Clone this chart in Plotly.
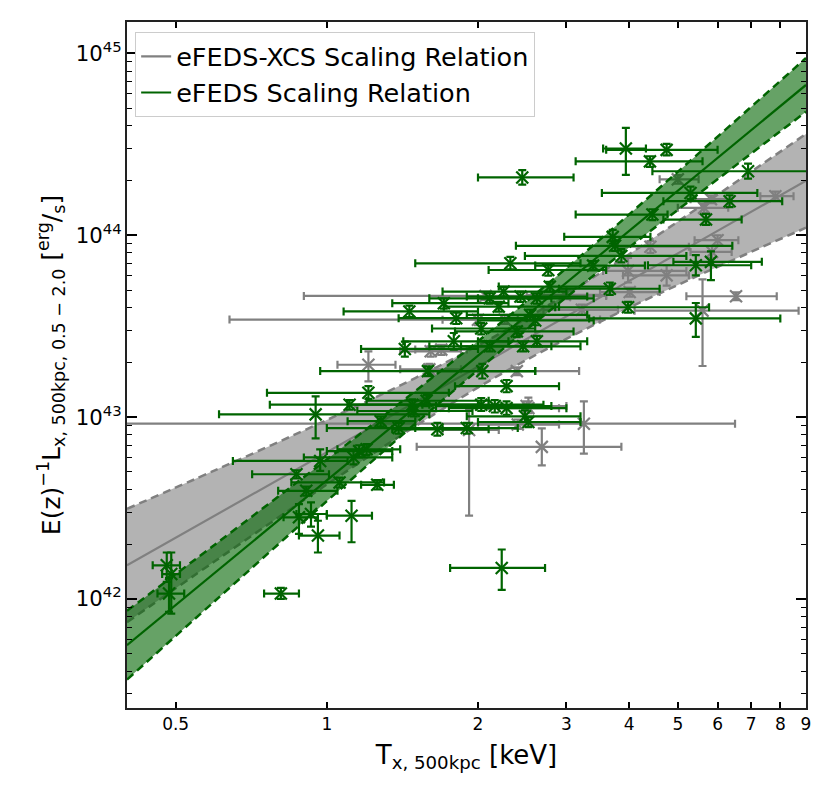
import numpy as np
import plotly.graph_objects as go

# eFEDS clusters (green): T [keV], L [1e42 erg/s], with lower/upper bounds
g_T = [2.45, 3.94, 4.75, 4.4, 6.9, 5.3, 6.34, 4.45, 5.69, 3.71, 3.75, 3.86, 5.43, 5.82, 5.43,
       3.98, 3.66, 2.23, 2.52, 1.43, 1.21, 1.11, 0.95, 1.28, 0.97, 0.87, 0.91, 1.06, 1.26, 0.88,
       0.93, 0.96, 1.12, 0.81, 0.48, 0.49, 0.485, 2.32, 2.76, 1.46, 1.81, 2.03, 1.79, 1.59, 1.71,
       2.11, 2.25, 2.43, 2.62, 2.78, 2.54, 2.11, 2.39, 2.46, 2.62, 2.04, 2.28, 2.03, 2.16, 2.28,
       2.48, 1.48, 1.58, 1.49, 1.39, 1.66, 1.9, 1.16, 1.13, 1.2, 3.39, 2.6, 2.2]
g_Tlo = [2.0, 3.55, 3.6, 3.13, 4.45, 3.53, 4.68, 3.13, 4.68, 2.97, 2.38, 2.48, 4.36, 4.9, 3.33,
         2.85, 2.9, 1.76, 2.0, 1.17, 0.76, 0.77, 0.61, 1.1, 0.65, 0.71, 0.8, 0.85, 1.17, 0.82,
         0.87, 0.88, 1.0, 0.75, 0.45, 0.47, 0.46, 1.5, 2.1, 1.08, 1.39, 1.62, 1.42, 0.97, 1.35,
         1.6, 1.7, 1.9, 2.0, 2.2, 1.9, 1.6, 1.8, 1.85, 2.0, 1.6, 1.8, 1.55, 1.65, 1.75,
         1.9, 1.1, 1.2, 1.15, 1.0, 1.35, 1.5, 1.0, 0.9, 1.05, 2.6, 2.0, 1.71]
g_Thi = [3.1, 4.32, 6.0, 5.6, 9.5, 7.2, 8.07, 4.77, 6.7, 4.41, 6.42, 5.2, 7.0, 7.35, 8.0,
         5.77, 4.6, 2.72, 3.2, 2.0, 1.75, 1.6, 1.6, 1.5, 1.1, 1.01, 1.05, 1.3, 1.36, 0.96,
         1.0, 1.06, 1.23, 0.88, 0.51, 0.51, 0.52, 3.2, 3.6, 2.0, 2.5, 2.6, 2.3, 2.6, 2.3,
         2.8, 3.0, 3.3, 3.4, 3.7, 3.3, 2.8, 3.1, 3.2, 3.3, 2.6, 2.9, 2.7, 2.8, 3.0,
         3.2, 2.0, 2.1, 1.95, 1.7, 2.1, 2.4, 1.35, 1.35, 1.4, 4.3, 3.4, 2.9]
g_L = [208, 300, 295, 255, 225, 171, 154, 130, 122, 98, 87.5, 77, 68.4, 71.4, 34.9,
       40.2, 50.8, 1.48, 9.4, 23.7, 13.6, 11.7, 10.35, 9.5, 5.74, 4.85, 3.93, 4.37, 4.24, 2.81,
       2.93, 2.23, 2.87, 1.07, 1.53, 1.37, 1.07, 70.1, 64.4, 38.1, 35.0, 30.7, 26.1, 17.9, 42.3,
       45, 49, 46, 45, 52.2, 36.5, 24.5, 29.6, 24.5, 26.1, 17.9, 14.8, 11.7, 11.5, 11.2,
       10.1, 11.7, 12.3, 10.8, 8.7, 8.57, 8.7, 6.5, 6.0, 6.65, 68.1, 34, 40.5]
g_Llo = [190, 215, 275, 238, 205, 158, 143, 121, 114, 90, 82, 71, 60.2, 56.7, 27.6,
         37.5, 47, 1.12, 8.8, 21.5, 12.6, 11.0, 7.64, 8.9, 5.06, 4.6, 3.7, 4.1, 4.0, 2.28,
         2.5, 1.8, 2.05, 1.0, 1.24, 0.83, 0.85, 65, 60, 35.5, 32.5, 28.5, 23.5, 16.8, 39.5,
         42, 46, 43, 42, 49, 34, 23, 27.5, 23, 24.5, 16.3, 13.7, 10.8, 10.6, 10.3,
         9.4, 11, 11.5, 10.1, 8.1, 7.9, 8.1, 6.0, 5.5, 6.2, 64, 32, 38]
g_Lhi = [228, 390, 318, 272, 248, 185, 166, 139, 131, 107, 93, 84, 77.8, 81.5, 42.4,
         43, 55, 1.87, 10.0, 26, 14.8, 12.4, 13.0, 10.1, 6.65, 5.1, 4.15, 4.65, 4.5, 3.32,
         3.4, 2.69, 3.46, 1.15, 1.80, 1.80, 1.3, 76, 69, 41, 37.5, 33, 29, 19, 45,
         48, 52, 49, 48, 55.5, 39, 26, 31.5, 26, 28, 19.6, 16, 12.7, 12.4, 12.2,
         10.9, 12.5, 13.2, 11.5, 9.3, 9.3, 9.3, 7.0, 6.6, 7.1, 72, 36, 43]

# eFEDS-XCS clusters (grey)
x_T = [7.82, 5.82, 5.0, 5.64, 6.0, 5.85, 4.41, 4.75, 6.53, 5.6, 3.98, 4.01, 2.98, 3.22,
       2.0, 3.25, 2.68, 1.92, 2.4, 2.52, 1.21, 1.61, 1.69, 1.6, 2.39, 2.5, 2.07, 2.26]
x_Tlo = [7.3, 5.3, 4.6, 5.0, 5.4, 5.3, 3.8, 3.89, 5.2, 4.1, 3.55, 3.5, 2.5, 2.7,
         1.7, 0.3, 1.51, 1.7, 2.0, 2.2, 1.05, 1.4, 1.5, 1.4, 2.0, 2.1, 0.9, 0.64]
x_Thi = [8.5, 6.4, 5.5, 6.3, 6.6, 6.4, 5.26, 5.26, 7.87, 8.7, 5.2, 4.6, 3.6, 3.8,
         2.4, 6.5, 3.86, 2.2, 2.9, 2.9, 1.37, 1.85, 1.9, 1.85, 3.18, 3.0, 3.6, 3.5]
x_L = [164, 158, 203, 141.5, 94, 81, 86.5, 60.2, 46.2, 38.5, 63.7, 48.7, 47, 38.9,
       34.3, 9.2, 6.86, 8.49, 9.1, 11.2, 19.4, 23.0, 23.5, 18.3, 17.9, 11.5, 46.4, 34.4]
x_Llo = [155, 150, 192, 133, 88, 75, 80, 52.8, 44, 19.1, 55, 46, 44.5, 36.5,
         32, 6.3, 5.42, 2.87, 8.6, 10.5, 15.7, 21.5, 22, 17, 17, 10.8, 44, 32.5]
x_Lhi = [174, 166, 214, 150, 100, 87, 93, 68.4, 48.5, 57.2, 75, 51.5, 50, 41.5,
         36.5, 12.2, 8.67, 11, 9.7, 12.8, 23.0, 24.5, 25, 19.6, 18.8, 12.2, 49, 36.5]

# scaling relations, read at these temperatures (L in 1e42 erg/s)
band_T = [0.4, 0.6, 1.0, 1.5, 2.26, 3.5, 5.5, 9.0]
xcs_mid = [1.53, 2.88, 6.41, 12.1, 22.96, 45.5, 92.3, 199.5]
xcs_up = [3.13, 5.11, 9.64, 16.4, 29.8, 61.9, 142, 361]
xcs_lo = [0.745, 1.62, 4.26, 8.9, 17.7, 33.4, 60.1, 110]
efeds_mid = [0.556, 1.40, 4.49, 11.3, 28.8, 78.0, 218, 671]
efeds_up = [0.86, 2.0, 5.84, 13.9, 34.4, 94.8, 282, 944]
efeds_lo = [0.36, 0.98, 3.45, 9.19, 24.1, 64.1, 169, 478]

x_ticks = [0.5, 1, 2, 3, 4, 5, 6, 7, 8, 9]

GREEN = '#006400'
GREY = '#808080'
E42 = 1e42


def points(T, Tlo, Thi, L, Llo, Lhi, color):
    T, Tlo, Thi = np.array(T), np.array(Tlo), np.array(Thi)
    L, Llo, Lhi = np.array(L) * E42, np.array(Llo) * E42, np.array(Lhi) * E42
    return go.Scatter(
        x=T, y=L, mode='markers', showlegend=False,
        marker=dict(symbol='x-thin', size=12, line=dict(color=color, width=2.2), color=color),
        error_x=dict(type='data', symmetric=False, array=Thi - T, arrayminus=T - Tlo,
                     color=color, thickness=2.2, width=4),
        error_y=dict(type='data', symmetric=False, array=Lhi - L, arrayminus=L - Llo,
                     color=color, thickness=2.2, width=4),
    )


def band(up, lo, mid, color, fill, name):
    bt = np.array(band_T)
    return [
        go.Scatter(x=bt, y=np.array(up) * E42, mode='lines', showlegend=False,
                   line=dict(color=color, width=2.5, dash='8px,5px', shape='spline')),
        go.Scatter(x=bt, y=np.array(lo) * E42, mode='lines', showlegend=False,
                   fill='tonexty', fillcolor=fill,
                   line=dict(color=color, width=2.5, dash='8px,5px', shape='spline')),
        go.Scatter(x=bt, y=np.array(mid) * E42, mode='lines', name=name,
                   line=dict(color=color, width=2.2)),
    ]


fig = go.Figure()
fig.add_trace(points(x_T, x_Tlo, x_Thi, x_L, x_Llo, x_Lhi, GREY))
for tr in band(xcs_up, xcs_lo, xcs_mid, GREY, 'rgba(128,128,128,0.6)', 'eFEDS-XCS Scaling Relation'):
    fig.add_trace(tr)
for tr in band(efeds_up, efeds_lo, efeds_mid, GREEN, 'rgba(0,100,0,0.6)', 'eFEDS Scaling Relation'):
    fig.add_trace(tr)
fig.add_trace(points(g_T, g_Tlo, g_Thi, g_L, g_Llo, g_Lhi, GREEN))

# the page body adds an 8px offset, so margins are trimmed by that much
fig.update_layout(
    width=830, height=803,
    margin=dict(l=119, r=32, t=12, b=103),
    plot_bgcolor='white', paper_bgcolor='white',
    font=dict(family='DejaVu Sans', size=16, color='black'),
    legend=dict(x=0.012, y=0.985, xanchor='left', yanchor='top', traceorder='normal',
                bgcolor='white', bordercolor='#cccccc', borderwidth=1,
                font=dict(size=25.5)),
)
fig.update_xaxes(
    type='log', range=[np.log10(0.4), np.log10(9)],
    tickvals=x_ticks, ticktext=[str(v) for v in x_ticks],
    ticks='inside', ticklen=6, tickwidth=1.5, tickcolor='black',
    showline=True, linecolor='#222222', linewidth=2, mirror='allticks',
    showgrid=False, zeroline=False, tickfont=dict(size=17),
    title=dict(text='T<sub>x, 500kpc</sub> [keV]', font=dict(size=26), standoff=12),
)
fig.update_yaxes(
    type='log', range=[41.4, 45.173], dtick=1, exponentformat='power',
    ticks='inside', ticklen=10, tickwidth=1.5, tickcolor='black',
    minor=dict(ticks='inside', ticklen=5, tickwidth=1, tickcolor='black', dtick='D1', showgrid=False),
    showline=True, linecolor='#222222', linewidth=2, mirror='allticks',
    showgrid=False, zeroline=False, tickfont=dict(size=17),
    title=dict(text='E(z)<sup>−1</sup>L<sub>x, 500kpc, 0.5 − 2.0</sub> [<sup>erg</sup>/<sub>s</sub>]',
               font=dict(size=25), standoff=8),
)

fig.write_html('out.html')
